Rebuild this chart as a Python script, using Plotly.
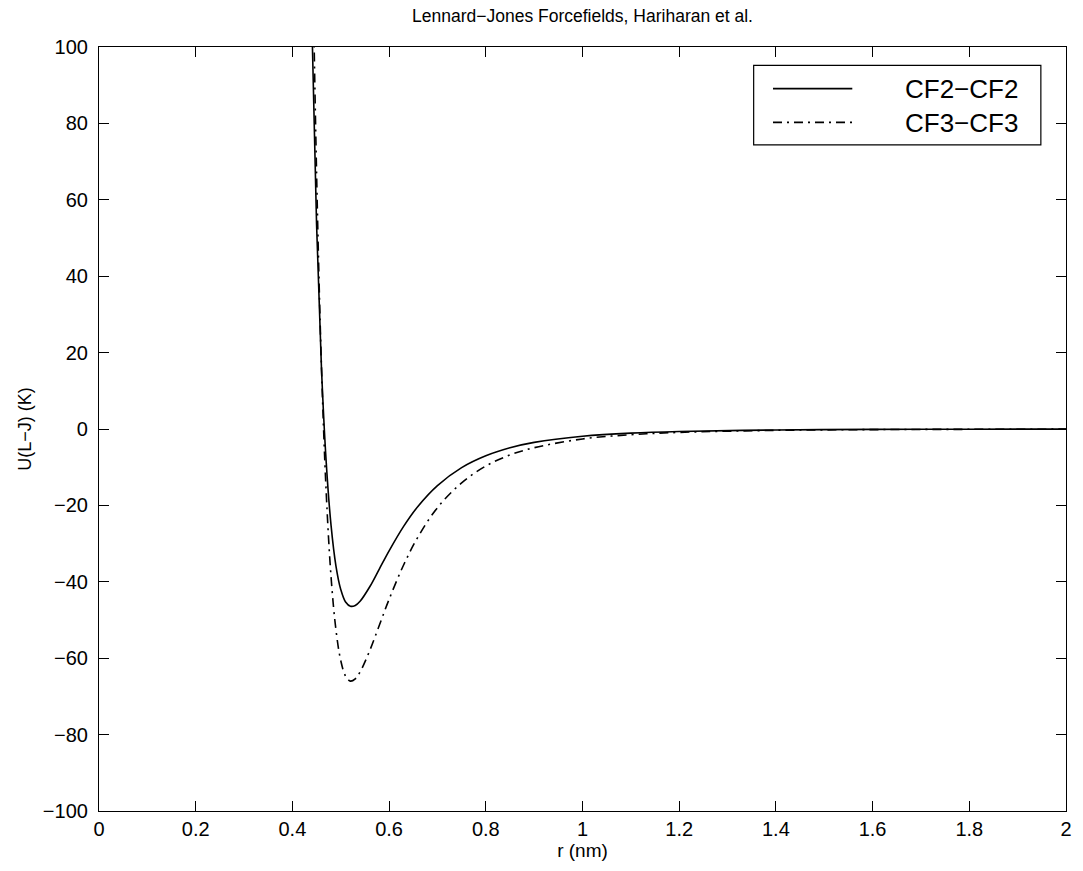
import plotly.graph_objects as go

# Separation r (nm) at which values were read
r_nm = [0.43, 0.44, 0.45, 0.46, 0.47, 0.48, 0.49, 0.50, 0.51, 0.52, 0.53, 0.54,
        0.56, 0.58, 0.60, 0.63, 0.66, 0.70, 0.75, 0.80, 0.85, 0.90, 1.0, 1.1,
        1.2, 1.4, 1.6, 1.8, 2.0]

# U(L-J) in K
u_cf2 = [186.8, 107.9, 53.5, 16.3, -8.8, -25.3, -35.8, -42.0, -45.3, -46.4, -46.2, -45.1,
         -41.3, -36.6, -31.9, -25.5, -20.2, -14.8, -10.1, -7.0, -4.9, -3.5, -1.9, -1.07,
         -0.64, -0.25, -0.11, -0.06, -0.03]
u_cf3 = [247.0, 140.4, 66.9, 16.8, -16.8, -38.8, -52.5, -60.6, -64.7, -66.0, -65.4, -63.6,
         -58.0, -51.3, -44.6, -35.6, -28.2, -20.6, -14.1, -9.7, -6.8, -4.9, -2.6, -1.5,
         -0.89, -0.35, -0.16, -0.08, -0.04]

series_names = ["CF2\u2212CF2", "CF3\u2212CF3"]
series_dash = ["solid", "9px,5px,2px,5px"]

x_ticks = [0, 0.2, 0.4, 0.6, 0.8, 1, 1.2, 1.4, 1.6, 1.8, 2]
y_ticks = [-100, -80, -60, -40, -20, 0, 20, 40, 60, 80, 100]

FONT = "Liberation Sans, Arial, Helvetica, sans-serif"
LW = 1.6

fig = go.Figure()
for yvals, name, dash in zip([u_cf2, u_cf3], series_names, series_dash):
    fig.add_trace(go.Scatter(x=r_nm, y=yvals, mode="lines", name=name, showlegend=False,
                             line=dict(color="black", width=LW, shape="spline",
                                       smoothing=1.0, dash=dash)))

axis_common = dict(showline=True, linecolor="black", linewidth=1.2, mirror="ticks",
                   ticks="inside", ticklen=10, tickwidth=1.2, tickcolor="black",
                   showgrid=False, zeroline=False,
                   tickfont=dict(family=FONT, size=20, color="black"))

# Legend box drawn in paper coordinates (top-right corner of the axes)
leg_box = dict(x0=0.677, x1=0.974, y0=0.872, y1=0.976)
leg_line_x = (0.697, 0.779)
leg_rows_y = [0.9455, 0.9013]
leg_text_x = 0.952
leg_text_y = 0.9234

shapes = [dict(type="rect", xref="paper", yref="paper", **leg_box,
               line=dict(color="black", width=1.2), fillcolor="white", layer="above")]
for dash, ry in zip(series_dash, leg_rows_y):
    shapes.append(dict(type="line", xref="paper", yref="paper",
                       x0=leg_line_x[0], x1=leg_line_x[1], y0=ry, y1=ry,
                       line=dict(color="black", width=LW, dash=dash), layer="above"))
annotations = [dict(text="<br>".join(series_names), xref="paper", yref="paper",
                    x=leg_text_x, y=leg_text_y, xanchor="right", yanchor="middle",
                    align="right", showarrow=False,
                    font=dict(family=FONT, size=26, color="black"))]

fig.update_layout(
    width=1083, height=871,
    margin=dict(l=99, r=11, t=47, b=60),
    paper_bgcolor="white", plot_bgcolor="white",
    title=dict(text="Lennard\u2212Jones Forcefields, Hariharan et al.",
               font=dict(family=FONT, size=17.5, color="black"),
               x=0.5, xref="paper", xanchor="center", y=0.982, yanchor="middle"),
    xaxis=dict(range=[0, 2], tickvals=x_ticks, ticktext=[str(t) for t in x_ticks],
               title=dict(text="r (nm)", font=dict(family=FONT, size=19, color="black"),
                          standoff=4),
               **axis_common),
    yaxis=dict(range=[-100, 100], tickvals=y_ticks,
               ticktext=[str(t).replace("-", "\u2212") for t in y_ticks],
               ticklabelstandoff=6,
               title=dict(text="U(L\u2212J) (K)", font=dict(family=FONT, size=18, color="black"),
                          standoff=6),
               **axis_common),
    shapes=shapes,
    annotations=annotations,
    showlegend=False,
)

fig.write_html("out.html")
